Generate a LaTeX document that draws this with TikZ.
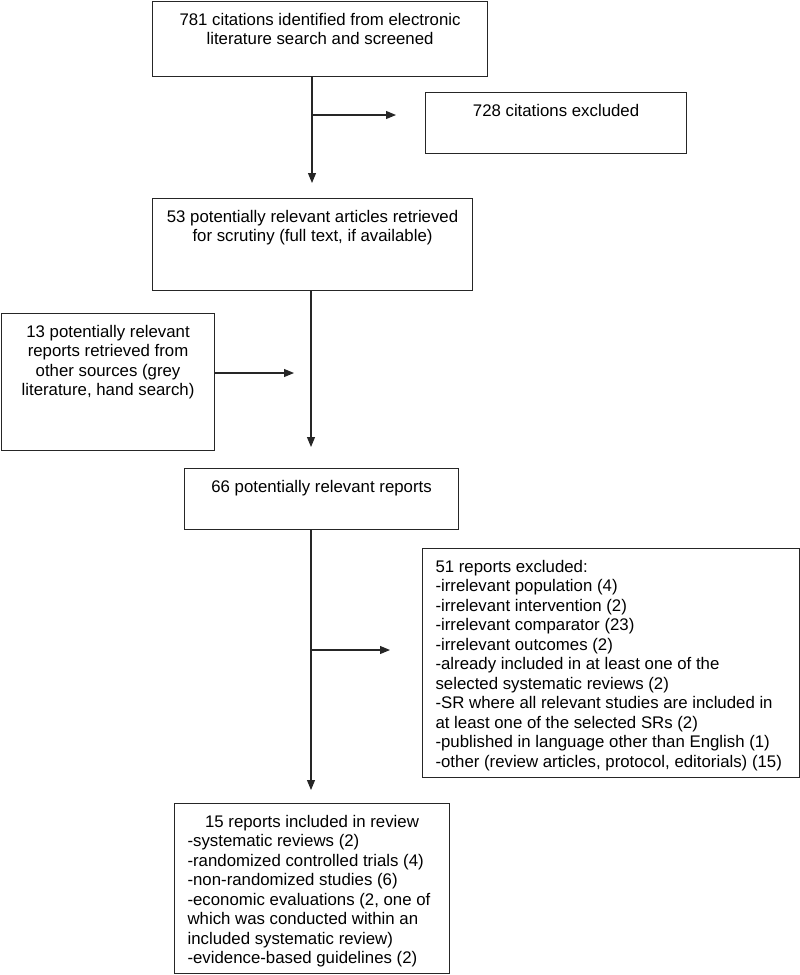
\documentclass[tikz,border=0pt]{standalone}
\usepackage{fontspec}
\setmainfont{Liberation Sans}
\usetikzlibrary{arrows.meta}
\tikzset{
  box/.style={draw=black!85, line width=1.1pt, inner sep=0pt, anchor=north west,
    font=\fontsize{16.8}{19.5}\selectfont},
  arr/.style={draw=black!85, line width=1.1pt, -{Triangle[length=10pt,width=8pt]}},
}
\newcommand{\cbox}[3]{\parbox[c][#2][t]{#1}{\vspace*{10pt}\centering\leavevmode\strut #3}}
\newcommand{\lbox}[3]{\parbox[c][#2][t]{#1}{\vspace*{10pt}\raggedright\leftskip=13pt\leavevmode\strut #3}}
\begin{document}
\begin{tikzpicture}[x=1pt,y=-1pt]
\useasboundingbox (0,0) rectangle (800,975);

\node[box] (b1) at (152,1) {\cbox{335pt}{75pt}{781 citations identified from electronic\\ literature search and screened}};
\node[box] (b2) at (425,92) {\cbox{261pt}{61pt}{728 citations excluded}};
\node[box] (b3) at (152,198) {\cbox{320pt}{92pt}{53 potentially relevant articles retrieved\\ for scrutiny (full text, if available)}};
\node[box] (b4) at (1,313) {\cbox{213pt}{137pt}{13 potentially relevant\\ reports retrieved from\\ other sources (grey\\ literature, hand search)}};
\node[box] (b5) at (184,468) {\cbox{274pt}{61pt}{66 potentially relevant reports}};
\node[box] (b6) at (422,548) {\lbox{377pt}{229pt}{51 reports excluded:\\ -irrelevant population (4)\\ -irrelevant intervention (2)\\ -irrelevant comparator (23)\\ -irrelevant outcomes (2)\\ -already included in at least one of the\\ selected systematic reviews (2)\\ -SR where all relevant studies are included in\\ at least one of the selected SRs (2)\\ -published in language other than English (1)\\ -other (review articles, protocol, editorials) (15)}};
\node[box] (b7) at (174,803) {\parbox[c][170pt][t]{275pt}{\vspace*{10pt}{\centering\leavevmode\strut 15 reports included in review\par}\raggedright\leftskip=13pt -systematic reviews (2)\\ -randomized controlled trials (4)\\ -non-randomized studies (6)\\ -economic evaluations (2, one of\\ which was conducted within an\\ included systematic review)\\ -evidence-based guidelines (2)}};

% first stage
\coordinate (t1) at (312,183);
\coordinate (j1) at (312,115);
\draw[arr] (b1.south -| t1) -- (t1);
\draw[arr] (j1) -- ([xshift=-29pt]j1 -| b2.west);

% second stage
\coordinate (t2) at (311,447);
\coordinate (j2) at (311,373);
\draw[arr] (b3.south -| t2) -- (t2);
\draw[arr] (b4.east |- j2) -- ([xshift=-17pt]j2);

% third stage
\coordinate (t3) at (311,790);
\coordinate (j3) at (311,650);
\draw[arr] (b5.south -| t3) -- (t3);
\draw[arr] (j3) -- ([xshift=-32pt]j3 -| b6.west);
\end{tikzpicture}
\end{document}
